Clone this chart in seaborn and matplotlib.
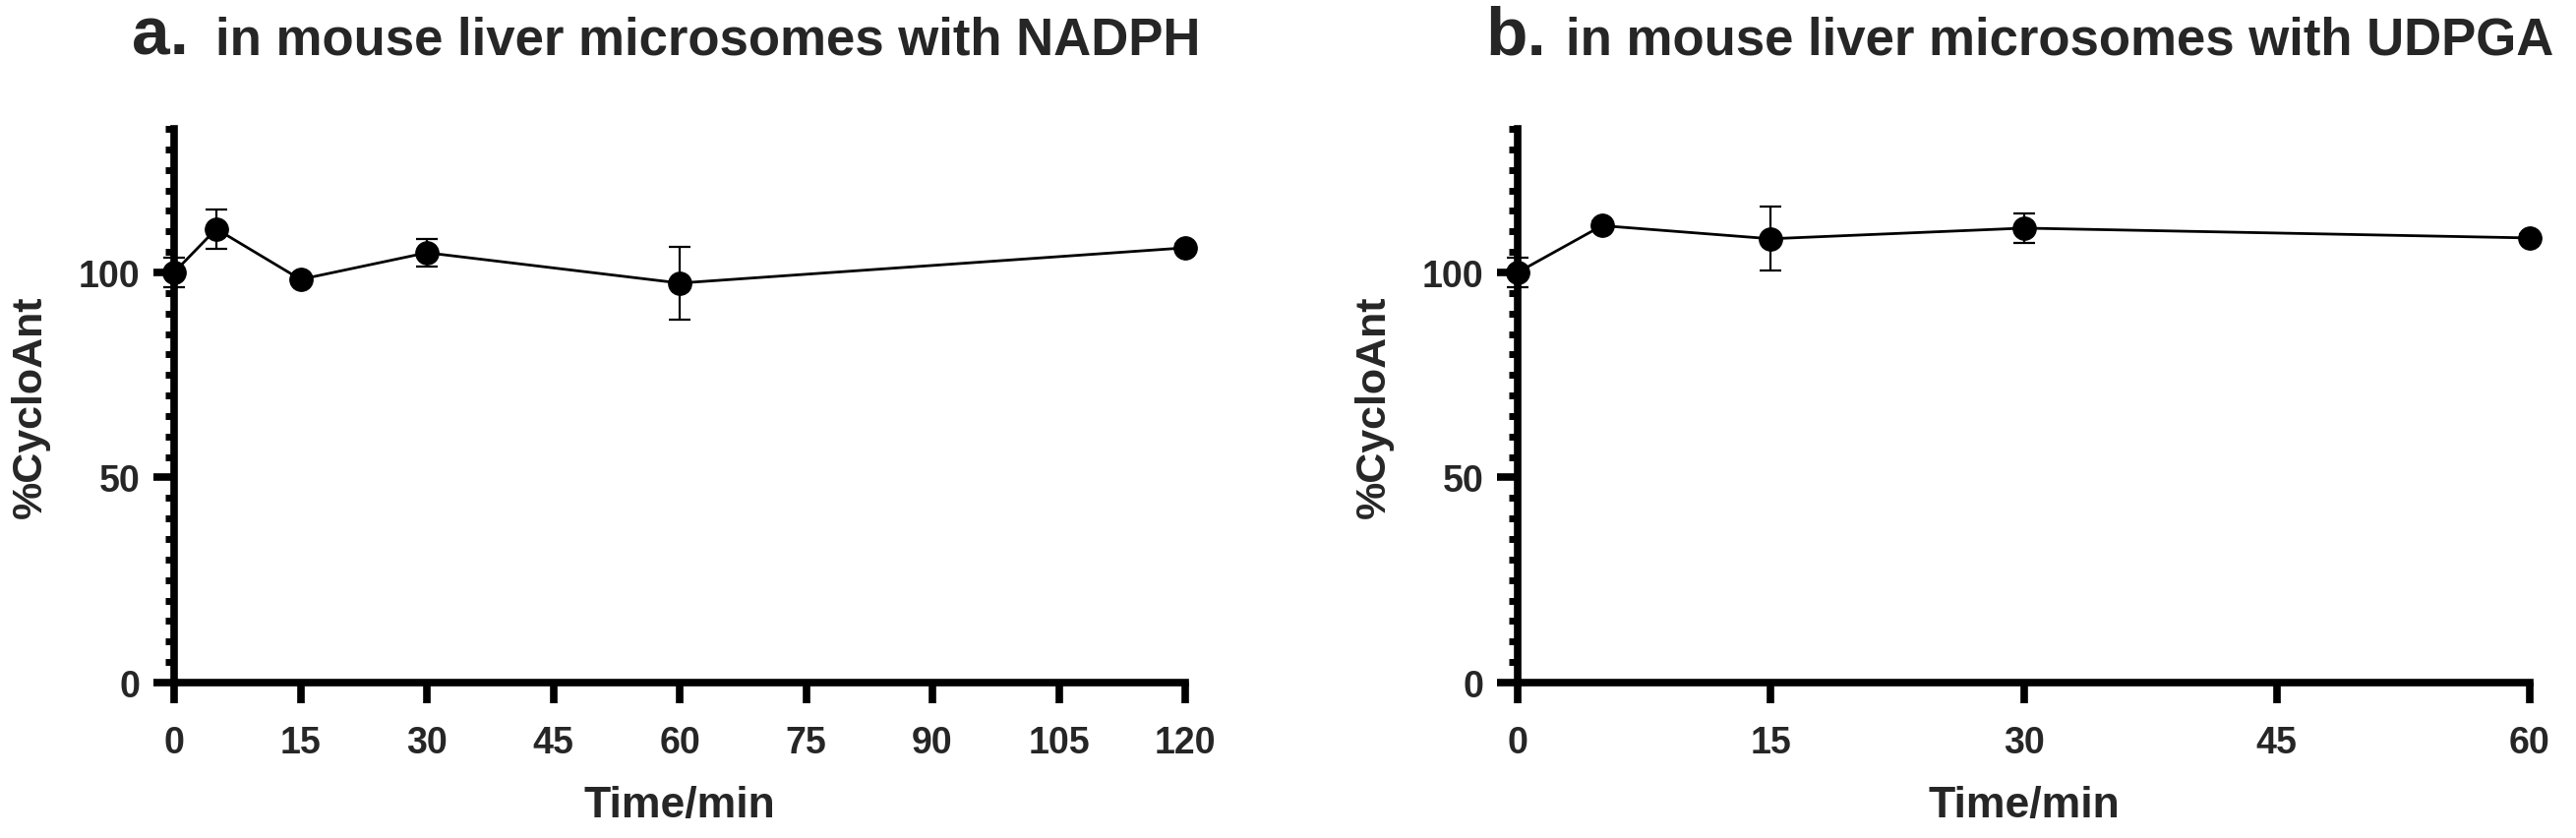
import matplotlib
matplotlib.use("Agg")
import matplotlib.pyplot as plt
from matplotlib.ticker import MultipleLocator
import seaborn as sns

# panel a: NADPH
time_a = [0, 5, 15, 30, 60, 120]
mean_a = [100.0, 110.6, 98.3, 104.8, 97.4, 106.0]
sd_a = [3.5, 4.8, 1.0, 3.4, 8.8, 1.0]
xticks_a = [0, 15, 30, 45, 60, 75, 90, 105, 120]

# panel b: UDPGA
time_b = [0, 5, 15, 30, 60]
mean_b = [100.0, 111.4, 108.2, 110.8, 108.4]
sd_b = [3.6, 1.0, 7.8, 3.6, 1.0]
xticks_b = [0, 15, 30, 45, 60]

sns.set_style("ticks")
plt.rcParams["font.family"] = ["Liberation Sans", "DejaVu Sans"]
plt.rcParams["font.weight"] = "bold"

fig = plt.figure(figsize=(26.19, 8.53), dpi=100)
W, H = 2619, 853
ax_a = fig.add_axes([177 / W, 1 - 695 / H, 1028 / W, 563 / H])
ax_b = fig.add_axes([1543 / W, 1 - 695 / H, 1029 / W, 563 / H])


def draw(ax, t, m, s, xticks):
    sns.lineplot(x=t, y=m, ax=ax, color="black", linewidth=2,
                 marker="o", markersize=17, markeredgecolor="black",
                 clip_on=False, zorder=3)
    ax.errorbar(t, m, yerr=s, fmt="none", ecolor="black", elinewidth=1.6,
                capsize=8, capthick=1.6, clip_on=False, zorder=2)
    ax.set_xlim(xticks[0], xticks[-1])
    ax.set_ylim(0, 135)
    ax.set_xticks(xticks)
    ax.set_yticks([0, 50, 100])
    ax.yaxis.set_minor_locator(MultipleLocator(5))
    sns.despine(ax=ax)
    for sp in ["left", "bottom"]:
        ax.spines[sp].set_linewidth(5.5)
        ax.spines[sp].set_color("black")
    ax.tick_params(axis="both", which="major", length=15, width=5.5,
                   color="black", labelsize=27, pad=10)
    ax.tick_params(axis="x", which="major", pad=16)
    ax.tick_params(axis="y", which="minor", length=6.5, width=5, color="black")
    for lab in ax.get_xticklabels() + ax.get_yticklabels():
        lab.set_fontweight("bold")
    ax.set_xlabel("Time/min", fontsize=32, fontweight="bold")
    ax.set_ylabel("%CycloAnt", fontsize=31, fontweight="bold")
    ax.xaxis.set_label_coords(0.5, -0.185)
    ax.yaxis.set_label_coords(-0.123, 0.5)
    ax.set_facecolor("white")


draw(ax_a, time_a, mean_a, sd_a, xticks_a)
draw(ax_b, time_b, mean_b, sd_b, xticks_b)

yb = 1 - 55 / H
fig.text(134 / W, yb, "a.", fontsize=50, fontweight="bold", va="baseline")
fig.text(219 / W, yb, "in mouse liver microsomes with NADPH", fontsize=38,
         fontweight="bold", va="baseline")
fig.text(1510 / W, yb, "b.", fontsize=50, fontweight="bold", va="baseline")
fig.text(1592 / W, yb, "in mouse liver microsomes with UDPGA", fontsize=38,
         fontweight="bold", va="baseline")

fig.savefig("out.png", dpi=100, facecolor="white")
